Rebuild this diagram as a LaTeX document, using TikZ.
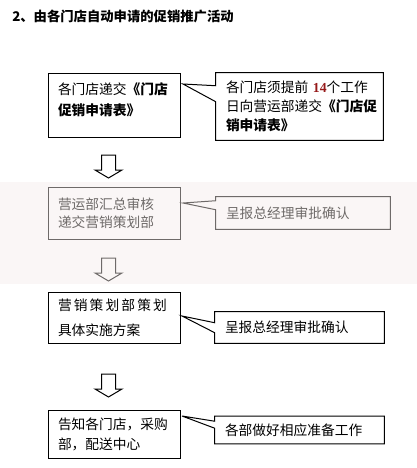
\documentclass[tikz,border=0pt]{standalone}
\usepackage{fontspec}
\setmainfont{Noto Sans CJK SC}
\newfontfamily\numfont{Liberation Serif}
\usetikzlibrary{calc}
\definecolor{numred}{RGB}{150,25,25}
\definecolor{bandpink}{RGB}{245,236,234}
\tikzset{
  box/.style={draw, line width=0.75pt, inner xsep=7.5pt, inner ysep=0pt, align=left, text width=84pt},
  callout/.style={inner xsep=7.5pt, inner ysep=0pt, align=left},
  outline/.style={line width=0.75pt, line join=miter},
  downarr/.pic={\draw[line width=0.75pt, fill=white] (-7,0) -- (7,0) -- (7,15) -- (13.5,15) -- (0,23) -- (-13.5,15) -- (-7,15) -- cycle;}
}
\begin{document}
\begin{tikzpicture}[x=0.75pt,y=-0.75pt]
\useasboundingbox (0,0) rectangle (417,468);

% title
\node[anchor=west, inner sep=0pt, font=\bfseries\fontsize{10pt}{12pt}\selectfont] (title) at (12,16.5) {2、由各门店自动申请的促销推广活动};

% row 1
\node[box, minimum height=48pt, font=\fontsize{10.3pt}{15.75pt}\selectfont] (b1) at (114,105) {各门店递交\textbf{《门店}\\\textbf{促销申请表》}\\[-7.5pt]\mbox{}};
\node[callout, text width=110.25pt, minimum height=50.25pt, font=\fontsize{10.3pt}{14pt}\selectfont] (c1) at (299.5,106.5) {各门店须提前 {\numfont\bfseries\color{numred}14}个工作\\日向营运部递交\textbf{《门店促}\\\textbf{销申请表》}};
\coordinate (p1) at (183,84);
\draw[outline] (c1.north west) -- (c1.north east) -- (c1.south east) -- (c1.south west) -- ($(c1.north west)+(0,29)$) -- (p1) -- ($(c1.north west)+(0,13)$) -- cycle;

\pic at (108.5,155) {downarr};

% row 2
\node[box, minimum height=39pt, font=\fontsize{10.3pt}{13.5pt}\selectfont] (b2) at (114,213) {营运部汇总审核\\递交营销策划部};
\node[callout, text width=115.5pt, minimum height=24pt, font=\fontsize{10.3pt}{13.5pt}\selectfont] (c2) at (303,213) {呈报总经理审批确认};
\coordinate (p2) at (183,203);
\draw[outline] (c2.north west) -- (c2.north east) -- (c2.south east) -- (c2.south west) -- ($(c2.north west)+(0,13)$) -- (p2) -- ($(c2.north west)+(0,4)$) -- cycle;

\pic at (108.5,258) {downarr};

% row 3
\node[box, minimum height=38.25pt, font=\fontsize{10.3pt}{18.75pt}\selectfont] (b3) at (114,317.5) {营\hspace{1.6pt}销\hspace{1.6pt}策\hspace{1.6pt}划\hspace{1.6pt}部\hspace{1.6pt}策\hspace{1.6pt}划\\具体实施方案};
\node[callout, text width=111.75pt, minimum height=23.25pt, font=\fontsize{10.3pt}{13.5pt}\selectfont] (c3) at (299.5,327.5) {呈报总经理审批确认};
\coordinate (p3) at (182,316);
\draw[outline] (c3.north west) -- (c3.north east) -- (c3.south east) -- (c3.south west) -- ($(c3.north west)+(0,21)$) -- (p3) -- ($(c3.north west)+(0,11)$) -- cycle;

\pic at (108.5,374) {downarr};

% row 4
\node[box, minimum height=36pt, font=\fontsize{10.3pt}{15pt}\selectfont] (b4) at (114,434) {告知各门店，采购\\部，配送中心};
\node[callout, text width=111.75pt, minimum height=20.25pt, font=\fontsize{10.3pt}{13.5pt}\selectfont] (c4) at (299.5,430) {各部做好相应准备工作};
\coordinate (p4) at (182,416);
\draw[outline] (c4.north west) -- (c4.north east) -- (c4.south east) -- (c4.south west) -- ($(c4.north west)+(0,12)$) -- (p4) -- ($(c4.north west)+(0,5)$) -- cycle;

% watermark band
\fill[bandpink, opacity=0.45] (0,182) rectangle (417,284);
\end{tikzpicture}
\end{document}
